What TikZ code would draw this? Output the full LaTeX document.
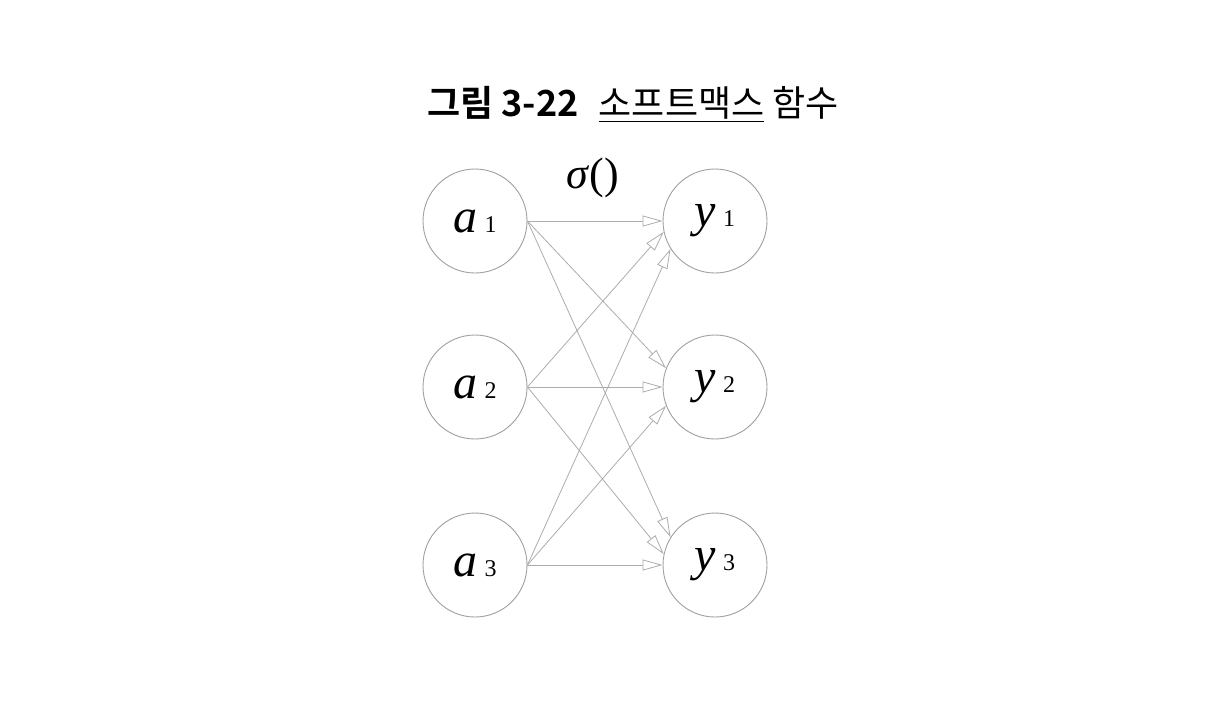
\documentclass[tikz,border=0pt]{standalone}
\usepackage{fontspec}
\setmainfont{Liberation Serif}
\newfontfamily\krfont{Noto Sans CJK KR}
\newfontfamily\krbold{Noto Sans CJK KR Bold}
\usetikzlibrary{arrows.meta}
\tikzset{myneuron/.style={draw=gray!75, circle, line width=0.9pt, minimum size=104pt, inner sep=0pt, font=\fontsize{48}{48}\selectfont}}
\tikzset{myarrow/.style={draw=gray!65, line width=0.8pt, -{Triangle[open, length=20pt, width=11pt]}}}
\newcommand{\lab}[2]{\textit{#1}\hspace{7pt}{\fontsize{24}{24}\selectfont #2}}

\begin{document}
\begin{tikzpicture}[x=1pt, y=-1pt]

\useasboundingbox (0, 0) rectangle (1222, 710);

\node[] (title) at (633, 104) {\fontsize{36}{36}\selectfont{\krbold 그림 3-22}\hspace{20pt}{\krfont\underline{소프트맥스} 함수}};

\node[font=\fontsize{44}{44}\selectfont] (sigma) at (593, 178) {\textit{σ}()};

\node[myneuron] (a1) at (475, 221) {\lab{a}{1}};
\node[myneuron] (a2) at (475, 387) {\lab{a}{2}};
\node[myneuron] (a3) at (475, 565) {\lab{a}{3}};

\node[myneuron] (y1) at (715, 221) {\lab{y}{1}};
\node[myneuron] (y2) at (715, 387) {\lab{y}{2}};
\node[myneuron] (y3) at (715, 565) {\lab{y}{3}};

\draw[myarrow] (a1.east) -- (y1.180);
\draw[myarrow] (a1.east) -- (y2.159);
\draw[myarrow] (a1.east) -- (y3.148);
\draw[myarrow] (a2.east) -- (y1.192);
\draw[myarrow] (a2.east) -- (y2.180);
\draw[myarrow] (a2.east) -- (y3.168);
\draw[myarrow] (a3.east) -- (y1.212);
\draw[myarrow] (a3.east) -- (y2.201);
\draw[myarrow] (a3.east) -- (y3.180);

\end{tikzpicture}
\end{document}
